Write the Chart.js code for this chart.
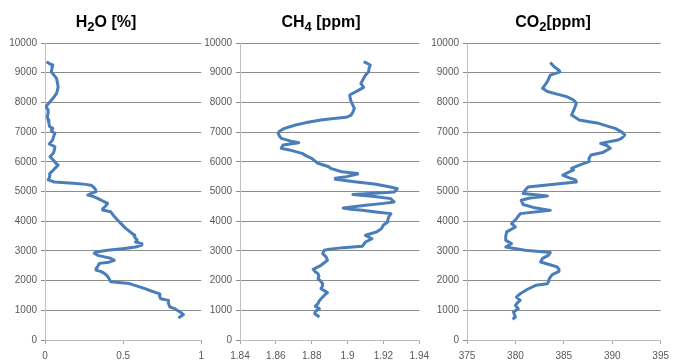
<!DOCTYPE html>
<html>
<head>
<meta charset="utf-8">
<script src="https://cdn.jsdelivr.net/npm/chart.js@4.4.0/dist/chart.umd.min.js"></script>
<style>
  body { margin: 0; background: #fff; }
  #wrap { position: relative; width: 675px; height: 364px; overflow: hidden; background: #fff; }
  #wrap canvas { position: absolute; top: 0; }
</style>
</head>
<body>
<div id="wrap">
  <canvas id="h2o" width="210" height="364" style="left:0px"></canvas>
  <canvas id="ch4" width="235" height="364" style="left:200px"></canvas>
  <canvas id="co2" width="245" height="364" style="left:430px"></canvas>
</div>
<script>
// altitude [m] and measured value, top of the profile first
const h2oAlt = [9370, 9300, 9260, 9150, 9030, 8900, 8810, 8650, 8530, 8420, 8305, 8200, 8080, 7950, 7855, 7750, 7630, 7520, 7410, 7300,
    7180, 7125, 7050, 6955, 6850, 6735, 6600, 6510, 6400, 6285, 6170, 6060, 5950, 5890, 5780, 5700, 5610, 5500, 5390, 5320,
    5275, 5240, 5200, 5100, 4995, 4920, 4880, 4830, 4770, 4680, 4600, 4520, 4420, 4375, 4320, 4180, 4040, 3900, 3760, 3640,
    3535, 3450, 3365, 3300, 3245, 3200, 3130, 3075, 3020, 2965, 2920, 2850, 2800, 2750, 2680, 2620, 2580, 2500, 2420, 2355,
    2300, 2245, 2150, 2065, 1965, 1900, 1795, 1730, 1650, 1560, 1450, 1390, 1335, 1230, 1110, 1055, 945, 855, 800, 740];
const h2oVal = [0.01, 0.03, 0.05, 0.045, 0.04, 0.06, 0.074, 0.08, 0.084, 0.08, 0.074, 0.06, 0.042, 0.02, 0.006, 0.02, 0.02, 0.015, 0.02, 0.025,
    0.03, 0.05, 0.04, 0.063, 0.055, 0.049, 0.027, 0.063, 0.06, 0.053, 0.032, 0.053, 0.07, 0.084, 0.063, 0.05, 0.032, 0.03, 0.021, 0.06,
    0.18, 0.26, 0.30, 0.32, 0.327, 0.29, 0.274, 0.31, 0.337, 0.37, 0.40, 0.39, 0.37, 0.369, 0.42, 0.44, 0.464, 0.49, 0.517, 0.545,
    0.57, 0.575, 0.59, 0.58, 0.62, 0.62, 0.58, 0.496, 0.40, 0.327, 0.316, 0.337, 0.38, 0.42, 0.443, 0.41, 0.348, 0.34, 0.33, 0.327,
    0.36, 0.38, 0.40, 0.41, 0.42, 0.54, 0.60, 0.64, 0.68, 0.73, 0.735, 0.74, 0.79, 0.79, 0.80, 0.83, 0.865, 0.886, 0.87, 0.854];

const ch4Alt = [9370, 9260, 9150, 9030, 8920, 8810, 8640, 8505, 8420, 8250, 8130, 8025, 7900, 7800, 7680, 7575, 7500, 7450, 7410, 7320,
    7240, 7125, 7030, 6955, 6870, 6790, 6720, 6680, 6645, 6600, 6565, 6455, 6400, 6285, 6200, 6115, 5950, 5835, 5780, 5665,
    5610, 5590, 5500, 5445, 5410, 5330, 5250, 5150, 5095, 5040, 4985, 4940, 4895, 4830, 4760, 4700, 4650, 4600, 4535, 4445,
    4400, 4365, 4300, 4255, 4150, 4040, 3975, 3870, 3750, 3640, 3525, 3410, 3300, 3155, 3110, 3060, 3020, 2910, 2800, 2680,
    2600, 2515, 2380, 2300, 2235, 2150, 2065, 1980, 1895, 1810, 1730, 1595, 1500, 1390, 1300, 1225, 1140, 1055, 960, 885, 775];
const ch4Val = [1.909, 1.9127, 1.912, 1.9118, 1.910, 1.909, 1.9074, 1.909, 1.9065, 1.9012, 1.9015, 1.902, 1.903, 1.9038, 1.903, 1.902, 1.8994, 1.891, 1.8852, 1.877,
    1.871, 1.8648, 1.862, 1.8613, 1.862, 1.863, 1.867, 1.8693, 1.8728, 1.868, 1.864, 1.863, 1.8675, 1.8746, 1.877, 1.880, 1.8834, 1.8896, 1.8905, 1.8967,
    1.9056, 1.9056, 1.8994, 1.8932, 1.8932, 1.9038, 1.915, 1.924, 1.9278, 1.927, 1.926, 1.915, 1.903, 1.915, 1.9242, 1.925, 1.926, 1.920, 1.910, 1.8976,
    1.902, 1.9082, 1.917, 1.9242, 1.923, 1.9224, 1.9224, 1.920, 1.9189, 1.9162, 1.910, 1.9136, 1.910, 1.9082, 1.8976, 1.890, 1.887, 1.8861, 1.888, 1.8888,
    1.887, 1.8852, 1.8808, 1.882, 1.8835, 1.884, 1.8835, 1.885, 1.8861, 1.886, 1.8852, 1.8888, 1.887, 1.8852, 1.884, 1.8835, 1.882, 1.8843, 1.882, 1.8817, 1.8843];

const co2Alt = [9340, 9200, 9080, 9030, 8920, 8700, 8475, 8365, 8280, 8195, 8080, 7970, 7800, 7575, 7410, 7350, 7295, 7200, 7125, 7000,
    6900, 6800, 6735, 6620, 6540, 6455, 6310, 6230, 6115, 6005, 5890, 5780, 5725, 5555, 5470, 5390, 5320, 5230, 5150, 5040,
    4930, 4850, 4780, 4705, 4560, 4450, 4365, 4255, 4085, 3915, 3805, 3640, 3500, 3355, 3245, 3130, 3020, 2945, 2850, 2750,
    2625, 2540, 2460, 2380, 2310, 2200, 2065, 1950, 1895, 1840, 1700, 1560, 1445, 1335, 1250, 1165, 1055, 945, 860, 775, 700];
const co2Val = [383.6, 384.0, 384.5, 384.6, 383.6, 383.3, 382.8, 383.3, 384.3, 385.3, 386.0, 386.3, 386.1, 385.8, 386.6, 387.6, 388.6, 389.5, 390.3, 391.0,
    391.3, 391.0, 390.6, 388.8, 389.5, 389.8, 389.0, 387.8, 387.6, 387.6, 386.6, 385.8, 386.0, 384.9, 385.5, 386.2, 386.3, 383.5, 381.3, 381.0,
    380.8, 383.3, 381.5, 380.6, 380.8, 382.0, 383.6, 380.5, 380.1, 379.6, 380.0, 379.1, 379.0, 379.0, 379.6, 379.0, 381.0, 383.6, 383.4, 382.8,
    382.6, 383.5, 384.3, 384.5, 384.5, 383.8, 383.5, 383.4, 383.3, 382.1, 381.2, 380.5, 380.1, 380.5, 380.2, 380.0, 380.3, 379.8, 379.9, 380.0, 379.7];

const lineColor = '#4a7ebb';
const tickFont = { family: "'Liberation Sans', Arial, sans-serif", size: 10 };

// plain numbers, no thousands separator, no trailing zeros
function plainTick(value) {
    return String(+value.toFixed(4));
}

// title with a subscript part, drawn above the plot area
const subTitle = {
    id: 'subTitle',
    afterDraw(chart, args, opts) {
        const ctx = chart.ctx;
        const big = "bold 16px 'Liberation Sans', Arial, sans-serif";
        const small = "bold 13px 'Liberation Sans', Arial, sans-serif";
        let total = 0;
        opts.parts.forEach(p => {
            ctx.font = p.sub ? small : big;
            total += ctx.measureText(p.text).width;
        });
        let x = opts.x - total / 2;
        ctx.save();
        ctx.fillStyle = '#000';
        ctx.textBaseline = 'alphabetic';
        opts.parts.forEach(p => {
            ctx.font = p.sub ? small : big;
            ctx.fillText(p.text, x, p.sub ? 31 : 27);
            x += ctx.measureText(p.text).width;
        });
        ctx.restore();
    }
};

function makeProfile(id, alt, val, xMin, xMax, xStep, axisWidth, padRight, title) {
    const points = alt.map((a, i) => ({ x: val[i], y: a }));
    return new Chart(document.getElementById(id), {
        type: 'scatter',
        data: {
            datasets: [{
                data: points,
                showLine: true,
                borderColor: lineColor,
                backgroundColor: lineColor,
                borderWidth: 3,
                borderJoinStyle: 'round',
                pointRadius: 0,
                tension: 0
            }]
        },
        options: {
            responsive: false,
            animation: false,
            layout: { padding: { top: 43, right: padRight, left: 0, bottom: 0 } },
            plugins: {
                legend: { display: false },
                tooltip: { enabled: false },
                subTitle: title
            },
            scales: {
                x: {
                    type: 'linear',
                    min: xMin,
                    max: xMax,
                    grid: { drawOnChartArea: false, drawTicks: true, tickLength: 4, color: '#a6a6a6' },
                    border: { color: '#bfbfbf', width: 1 },
                    ticks: { stepSize: xStep, font: tickFont, color: '#595959', padding: 6, maxRotation: 0, callback: plainTick },
                    afterFit(scale) { scale.height = 24; }
                },
                y: {
                    type: 'linear',
                    min: 0,
                    max: 10000,
                    grid: { color: '#8c8c8c', tickLength: 4 },
                    border: { color: '#bfbfbf', width: 1 },
                    ticks: { stepSize: 1000, font: tickFont, color: '#595959', padding: 4, callback: plainTick },
                    afterFit(scale) { scale.width = axisWidth; }
                }
            }
        },
        plugins: [subTitle]
    });
}

makeProfile('h2o', h2oAlt, h2oVal, 0, 1, 0.5, 45, 7,
    { x: 106, parts: [{ text: 'H' }, { text: '2', sub: true }, { text: 'O [%]' }] });
makeProfile('ch4', ch4Alt, ch4Val, 1.84, 1.94, 0.02, 40, 7,
    { x: 121, parts: [{ text: 'CH' }, { text: '4', sub: true }, { text: ' [ppm]' }] });
makeProfile('co2', co2Alt, co2Val, 375, 395, 5, 37, 8,
    { x: 123, parts: [{ text: 'CO' }, { text: '2', sub: true }, { text: '[ppm]' }] });
</script>
</body>
</html>
